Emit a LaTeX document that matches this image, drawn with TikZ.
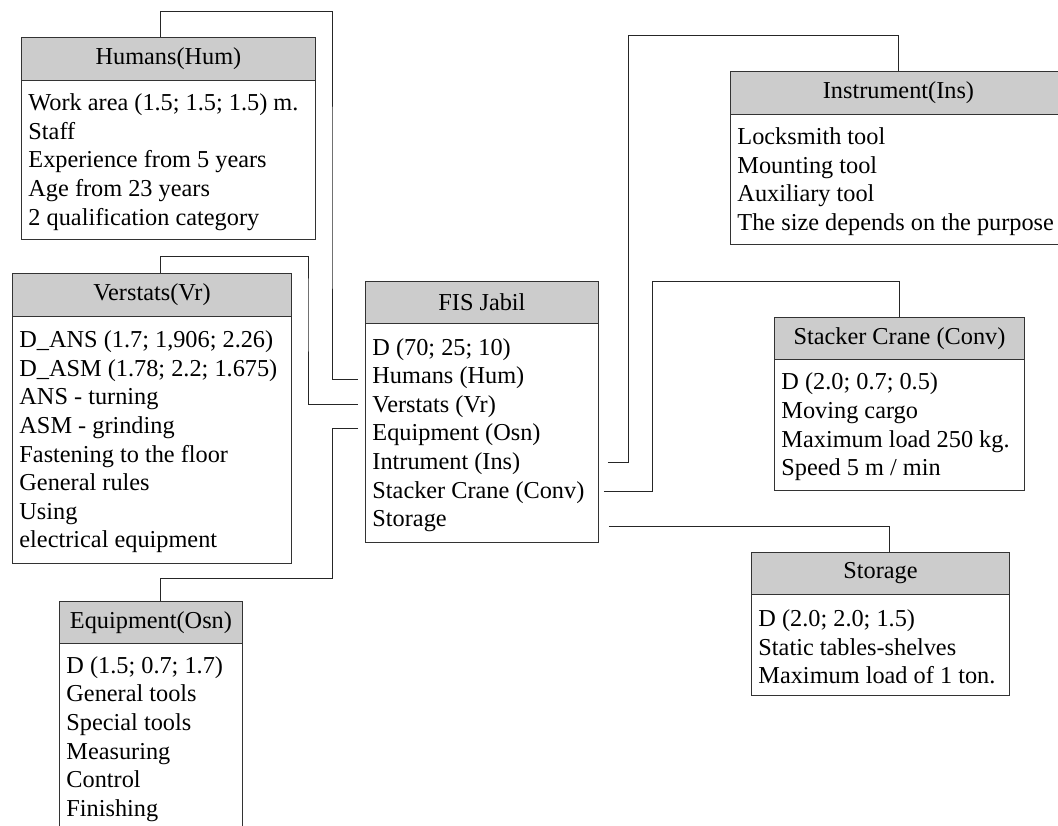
\documentclass[tikz,border=0pt]{standalone}
\usepackage{fontspec}
\setmainfont{Liberation Serif}
\frenchspacing
\hyphenpenalty=10000
\begin{document}
\begin{tikzpicture}[x=1pt,y=1pt,
  hdr/.style={draw=black!80, line width=0.9pt, fill=black!20, anchor=north west, inner sep=0pt,
     font=\fontsize{24.3}{28.6}\selectfont},
  body/.style={draw=black!80, line width=0.9pt, fill=white, anchor=north west, inner xsep=7pt, inner ysep=0pt,
     align=flush left, font=\fontsize{24.3}{28.6}\selectfont,
     execute at begin node={\rule{0pt}{21pt}}},
  conn/.style={draw=black!85, line width=0.8pt}]
\useasboundingbox (0,0) rectangle (1058,-826);
\fill[white] (0,0) rectangle (1058,-826);

% Humans
\node[hdr, minimum width=294pt, minimum height=43pt] (humH) at (21,-37) {Humans(Hum)};
\node[body, text width=280pt, minimum height=159pt] (humB) at (21,-80)
  {Work area (1.5; 1.5; 1.5) m.\\Staff\\Experience from 5 years\\Age from 23 years\\2 qualification category};

% Verstats
\node[hdr, minimum width=279pt, minimum height=43pt] (vrH) at (12,-273) {Verstats(Vr)};
\node[body, text width=265pt, minimum height=247pt] (vrB) at (12,-316)
  {D\_ANS (1.7; 1,906; 2.26)\\D\_ASM (1.78; 2.2; 1.675)\\ANS - turning\\ASM - grinding\\Fastening to the floor\\General rules\\Using\\electrical equipment};

% Equipment
\node[hdr, minimum width=183pt, minimum height=42pt] (osnH) at (59,-601) {Equipment(Osn)};
\node[body, text width=169pt, minimum height=187pt] (osnB) at (59,-643)
  {D (1.5; 0.7; 1.7)\\General tools\\Special tools\\Measuring\\Control\\Finishing};

% FIS Jabil
\node[hdr, minimum width=233pt, minimum height=42pt] (fisH) at (365,-281) {FIS Jabil};
\node[body, text width=219pt, minimum height=219pt] (fisB) at (365,-323)
  {D (70; 25; 10)\\Humans (Hum)\\Verstats (Vr)\\Equipment (Osn)\\Intrument (Ins)\\Stacker Crane (Conv)\\Storage};

% Instrument
\node[hdr, minimum width=336pt, minimum height=43pt] (insH) at (730,-71) {Instrument(Ins)};
\node[body, text width=322pt, minimum height=130pt] (insB) at (730,-114)
  {Locksmith tool\\Mounting tool\\Auxiliary tool\\The size depends on the purpose};

% Stacker Crane
\node[hdr, minimum width=250pt, minimum height=42pt] (convH) at (774,-317) {Stacker Crane (Conv)};
\node[body, text width=236pt, minimum height=131pt] (convB) at (774,-359)
  {D (2.0; 0.7; 0.5)\\Moving cargo\\Maximum load 250 kg.\\Speed 5 m / min};

% Storage
\node[hdr, minimum width=258pt, minimum height=42pt] (stoH) at (751,-552) {Storage};
\node[body, text width=244pt, minimum height=101pt] (stoB) at (751,-594)
  {D (2.0; 2.0; 1.5)\\Static tables-shelves\\Maximum load of 1 ton.};

% attach points at FIS Jabil lines
\coordinate (pHum) at ([xshift=-7pt]fisB.north west |- 0,-379);
\coordinate (pVr)  at ([xshift=-7pt]fisB.north west |- 0,-404);
\coordinate (pOsn) at ([xshift=-7pt]fisB.north west |- 0,-428);
\coordinate (pIns) at ([xshift=9pt]fisB.north east |- 0,-462);
\coordinate (pConv) at ([xshift=5pt]fisB.north east |- 0,-491);
\coordinate (pSto) at ([xshift=10pt]fisB.north east |- 0,-526);

% connectors
\draw[conn] ([xshift=139pt]humH.north west) -- ++(0,26) -| (332,-200) |- (pHum);
\draw[conn] ([xshift=148pt]vrH.north west) -- ++(0,17) -| (308,-300) |- (pVr);
\draw[conn] (pOsn) -- (332,-428) |- (160,-578) -- ([xshift=101pt]osnH.north west);
\draw[conn] (pIns) -| (628,-35) -| (insH.north);
\draw[conn] (pConv) -| (652,-281) -| (convH.north);
\draw[conn] (pSto) -| ([xshift=138pt]stoH.north west);
\end{tikzpicture}
\end{document}
